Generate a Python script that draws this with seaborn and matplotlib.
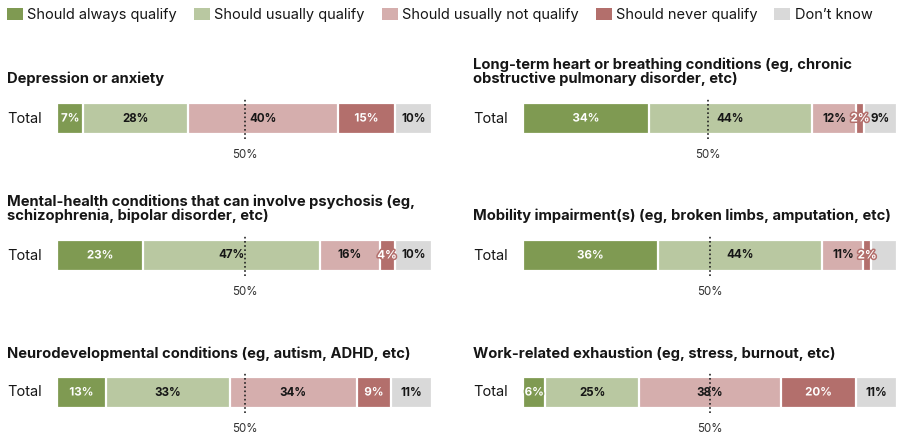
import matplotlib
matplotlib.use("Agg")
import matplotlib.pyplot as plt
import matplotlib.patheffects as pe
from matplotlib.patches import Patch
import seaborn as sns
import pandas as pd

# ---- data -------------------------------------------------------------
responses = ["Should always qualify", "Should usually qualify",
             "Should usually not qualify", "Should never qualify",
             "Don\u2019t know"]
conditions = [
    "Depression or anxiety",
    "Long-term heart or breathing conditions (eg, chronic\n"
    "obstructive pulmonary disorder, etc)",
    "Mental-health conditions that can involve psychosis (eg,\n"
    "schizophrenia, bipolar disorder, etc)",
    "Mobility impairment(s) (eg, broken limbs, amputation, etc)",
    "Neurodevelopmental conditions (eg, autism, ADHD, etc)",
    "Work-related exhaustion (eg, stress, burnout, etc)",
]
always = [7, 34, 23, 36, 13, 6]
usually = [28, 44, 47, 44, 33, 25]
usually_not = [40, 12, 16, 11, 34, 38]
never = [15, 2, 4, 2, 9, 20]
dont_know = [10, 9, 10, 7, 11, 11]
row_label = "Total"
midpoint = 50
# segments left without a value label: (condition index, response index)
unlabelled = {(3, 4)}

# ---- style ------------------------------------------------------------
colors = ["#7f9a52", "#b9c8a1", "#d5aead", "#b36f6c", "#d9d9d9"]
label_colors = ["white", "#161616", "#161616", "white", "#161616"]
INK = "#161616"

sns.set_style("white")
plt.rcParams["font.family"] = ["Inter", "DejaVu Sans"]

W, H = 905, 437
fig = plt.figure(figsize=(W / 100, H / 100), dpi=100)


def px_axes(x0, y0, w, h):
    return fig.add_axes([x0 / W, 1 - (y0 + h) / H, w / W, h / H])


# panel geometry in pixels
col_bar_x = [57, 523]
col_bar_w = [375, 374]
col_text_x = [7, 473]
row_bar_top = [103, 240, 377]
row_title_bottom = [86, 223, 361]
bar_h = 31
over = 5  # dotted reference line sticks out above/below the bar

for i, cond in enumerate(conditions):
    r, c = divmod(i, 2)
    shares = [always[i], usually[i], usually_not[i], never[i], dont_know[i]]
    df = pd.DataFrame({"response": responses, "share": shares})
    df["end"] = df["share"].cumsum()
    df["start"] = df["end"] - df["share"]
    df["row"] = row_label
    total = df["end"].iloc[-1]

    ax = px_axes(col_bar_x[c], row_bar_top[r] - over, col_bar_w[c], bar_h + 2 * over)
    width = bar_h / (bar_h + 2 * over)
    # stacked bar: draw cumulative ends from the longest to the shortest
    for k in reversed(range(len(responses))):
        sns.barplot(data=df.iloc[[k]], x="end", y="row", orient="h",
                    color=colors[k], saturation=1, width=width,
                    errorbar=None, edgecolor="white", linewidth=1.6, ax=ax)

    for k, rec in df.iterrows():
        if (i, k) in unlabelled:
            continue
        txt = ax.text(rec["start"] + rec["share"] / 2, 0, f"{rec['share']}%",
                      ha="center", va="center", fontsize=8.3,
                      fontweight="bold", color=label_colors[k], zorder=5)
        if label_colors[k] == "white":
            txt.set_path_effects([pe.withStroke(linewidth=2.2,
                                                foreground=colors[k])])

    ax.axvline(midpoint, color="#222222", lw=1.2, ls=(0, (1, 1.5)), zorder=4)
    ax.annotate(f"{midpoint}%", xy=(midpoint, 0), xycoords=("data", "axes fraction"),
                xytext=(0, -11.5), textcoords="offset points",
                ha="center", va="center", fontsize=8.3, color="#333333")

    ax.set_xlim(0, total)
    ax.set_ylim(0.5, -0.5)
    ax.set_xticks([])
    ax.set_yticks([])
    ax.set_xlabel("")
    ax.set_ylabel("")
    sns.despine(ax=ax, left=True, bottom=True)
    ax.patch.set_alpha(0)

    # row label and panel title
    fig.text(col_text_x[c] / W, 1 - (row_bar_top[r] + bar_h / 2) / H, row_label,
             ha="left", va="center", fontsize=10.5, color=INK)
    fig.text(col_text_x[c] / W, 1 - row_title_bottom[r] / H, cond,
             ha="left", va="bottom", fontsize=10.6, fontweight="bold",
             color=INK, linespacing=0.97)

handles = [Patch(facecolor=col, edgecolor="none") for col in colors]
fig.legend(handles, responses, loc="upper left",
           bbox_to_anchor=(7 / W, 1 - 8 / H), ncol=5, frameon=False,
           fontsize=10.5, handlelength=1.1, handleheight=0.85,
           handletextpad=0.3, columnspacing=1.15, borderpad=0,
           borderaxespad=0, labelcolor=INK)

fig.savefig("out.png", dpi=100)
